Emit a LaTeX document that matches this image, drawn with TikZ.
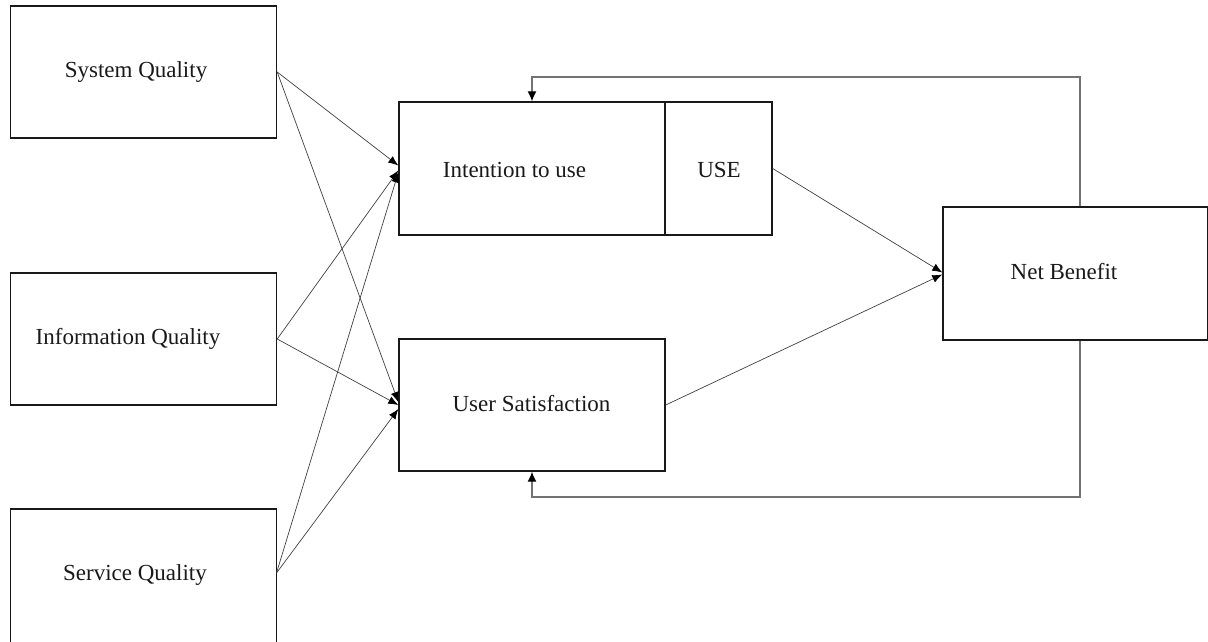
\documentclass[tikz,border=0pt]{standalone}
\usepackage{fontspec}
\setmainfont{Liberation Serif}
\usetikzlibrary{arrows.meta,calc}
\begin{document}
\begin{tikzpicture}[x=1pt,y=-1pt,
  box/.style={draw=black!90,line width=1.4pt,inner sep=0pt,minimum width=#1},
  box/.default=266pt,
  lbl/.style={font=\fontsize{23}{26}\selectfont,inner sep=0pt,text=black!90},
  link/.style={draw=black!75,line width=0.7pt,-{Latex[length=10pt,width=8pt,color=black]}},
  loopline/.style={draw=black!55,line width=1.3pt,-{Latex[length=10pt,width=9pt,color=black]}}]
\useasboundingbox (0,0) rectangle (1208,641);
\clip (0,0) rectangle (1208,641);
% input boxes
\node[box,minimum height=132pt] (sys)  at (143.5,72)  {};
\node[box,minimum height=132pt] (info) at (143.5,339) {};
\node[box,minimum height=140pt] (serv) at (143.5,579) {};
% middle boxes
\node[box,minimum height=133pt] (itu) at (532,168.5) {};
\node[box=107pt,minimum height=133pt] (use) at (718.5,168.5) {};
\node[box,minimum height=132pt] (us)  at (532,405) {};
% outcome box
\node[box=265pt,minimum height=133pt] (nb) at (1075.5,273.5) {};
% labels
\node[lbl] (tsys)  at (136,72)  {System Quality};
\node[lbl] (tinfo) at (128,339) {Information Quality};
\node[lbl] (tserv) at (135,575) {Service Quality};
\node[lbl] (titu)  at (514.5,170) {Intention to use};
\node[lbl] (tuse)  at (719,170) {USE};
\node[lbl] (tus)   at (531.5,404) {User Satisfaction};
\node[lbl] (tnb)   at (1064,272) {Net Benefit};
% quality dimensions feeding use and satisfaction
\coordinate (servout) at (276.5,573);
\draw[link] (sys.east)  -- ($(itu.west)+(0,-3)$);
\draw[link] (sys.east)  -- ($(us.west)+(0,-3)$);
\draw[link] (info.east) -- ($(itu.west)+(0,2)$);
\draw[link] (info.east) -- ($(us.west)+(0,0)$);
\draw[link] (servout) -- ($(itu.west)+(0,4)$);
\draw[link] (servout) -- ($(us.west)+(0,4)$);
% use and satisfaction lead to net benefit
\draw[link] (use.east) -- ($(nb.west)+(0,-1)$);
\draw[link] (us.east)  -- ($(nb.west)+(0,1)$);
% feedback loops
\coordinate (fbx) at (1080,0);
\coordinate (fbtop) at (0,77);
\coordinate (fbbot) at (0,497);
\draw[loopline] (nb.north -| fbx) -- (fbtop -| fbx) -- (fbtop -| itu.north) -- (itu.north);
\draw[loopline] (nb.south -| fbx) -- (fbbot -| fbx) -- (fbbot -| us.south) -- (us.south);
\end{tikzpicture}
\end{document}
